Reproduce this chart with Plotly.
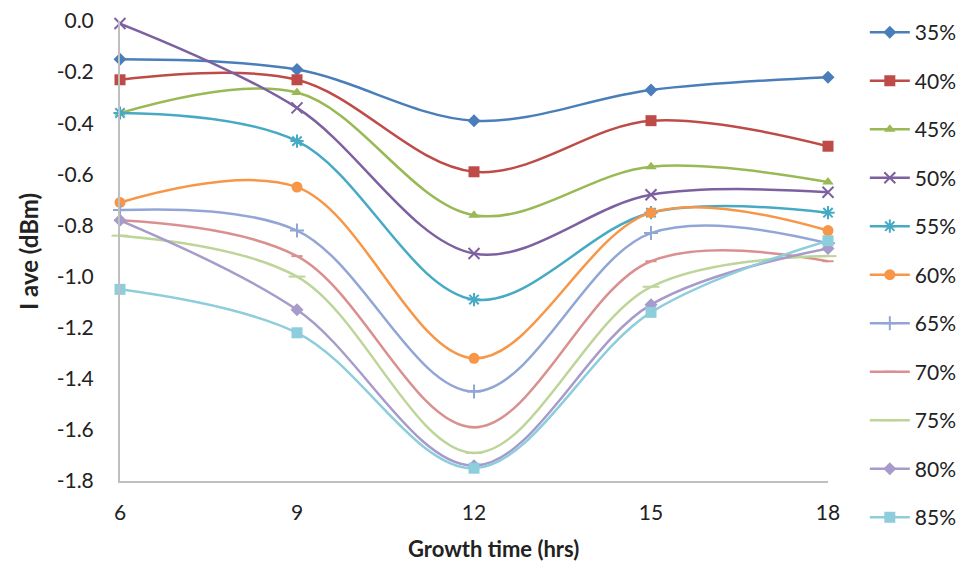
import plotly.graph_objects as go

# Growth time (hours) on the x axis
growth_time = [6, 9, 12, 15, 18]

# Average intensity (dBm) for each concentration
s35 = [-0.15, -0.19, -0.39, -0.27, -0.22]
s40 = [-0.23, -0.23, -0.59, -0.39, -0.49]
s45 = [-0.36, -0.28, -0.76, -0.57, -0.63]
s50 = [-0.01, -0.34, -0.91, -0.68, -0.67]
s55 = [-0.36, -0.47, -1.09, -0.75, -0.75]
s60 = [-0.71, -0.65, -1.32, -0.75, -0.82]
s65 = [-0.74, -0.82, -1.45, -0.83, -0.87]
s70 = [-0.78, -0.92, -1.59, -0.94, -0.94]
s75 = [-0.84, -1.00, -1.69, -1.04, -0.92]
s80 = [-0.78, -1.13, -1.74, -1.11, -0.89]
s85 = [-1.05, -1.22, -1.75, -1.14, -0.86]

series_names = ["35%", "40%", "45%", "50%", "55%", "60%",
                "65%", "70%", "75%", "80%", "85%"]
series_values = [s35, s40, s45, s50, s55, s60, s65, s70, s75, s80, s85]

y_tick_vals = [0.0, -0.2, -0.4, -0.6, -0.8, -1.0, -1.2, -1.4, -1.6, -1.8]
y_tick_text = ["0.0", "-0.2", "-0.4", "-0.6", "-0.8", "-1.0",
               "-1.2", "-1.4", "-1.6", "-1.8"]

colors = ["#4A7EBB", "#BE4B48", "#98B954", "#7D60A0", "#46AAC5", "#F79646",
          "#92A6D6", "#D9908F", "#BDD598", "#A69BCA", "#8DCDDC"]
symbols = ["diamond", "square", "triangle-up", "x-thin-open", "asterisk-open",
           "circle", "cross-thin-open", "line-ew-open", "line-ew-open",
           "diamond", "square"]
sizes = [10, 11, 10, 11, 11, 11, 10, 8, 12, 10, 11]

FONT = "Lato, 'Open Sans', sans-serif"
TXT = "#222222"

fig = go.Figure()
for name, vals, col, sym, sz in zip(series_names, series_values, colors, symbols, sizes):
    open_sym = sym.endswith("-open")
    fig.add_trace(go.Scatter(
        x=growth_time, y=vals, name=name, legendgroup=name,
        mode="lines+markers",
        line=dict(color=col, width=2.5, shape="spline", smoothing=1.0),
        marker=dict(symbol=sym, size=sz, color=col,
                    line=dict(color=col, width=2 if open_sym else 0)),
        cliponaxis=False,
    ))

fig.update_layout(
    width=960, height=571,
    margin=dict(l=120, r=132, t=21, b=90, autoexpand=False),
    paper_bgcolor="white", plot_bgcolor="white",
    font=dict(family=FONT, size=21, color=TXT),
    showlegend=True,
    legend=dict(
        x=1.052, xanchor="left", y=1.0195, yanchor="top",
        traceorder="grouped", tracegroupgap=18.2, maxheight=570,
        itemwidth=40, font=dict(family=FONT, size=21, color=TXT),
        bgcolor="rgba(0,0,0,0)",
    ),
    xaxis=dict(
        range=[6, 18], tickvals=growth_time, ticktext=[str(v) for v in growth_time],
        showgrid=False, zeroline=False, showline=True, linecolor="#BFBFBF",
        linewidth=2, ticks="", ticklabelstandoff=12,
        tickfont=dict(family=FONT, size=21, color=TXT),
    ),
    yaxis=dict(
        range=[-1.8, 0.0], tickvals=y_tick_vals, ticktext=y_tick_text,
        showgrid=False, zeroline=False, showline=True, linecolor="#BFBFBF",
        linewidth=2, ticks="", ticklabelstandoff=20,
        tickfont=dict(family=FONT, size=21, color=TXT),
    ),
    annotations=[
        dict(text="<b>Growth time (hrs)</b>", xref="paper", yref="paper",
             x=0.527, y=-0.147, xanchor="center", yanchor="middle",
             showarrow=False, font=dict(family=FONT, size=22, color=TXT)),
        dict(text="<b>I ave (dBm)</b>", xref="paper", yref="paper",
             x=-0.13, y=0.5, xanchor="center", yanchor="middle", textangle=-90,
             showarrow=False, font=dict(family=FONT, size=24, color=TXT)),
    ],
)

fig.write_html("out.html")
